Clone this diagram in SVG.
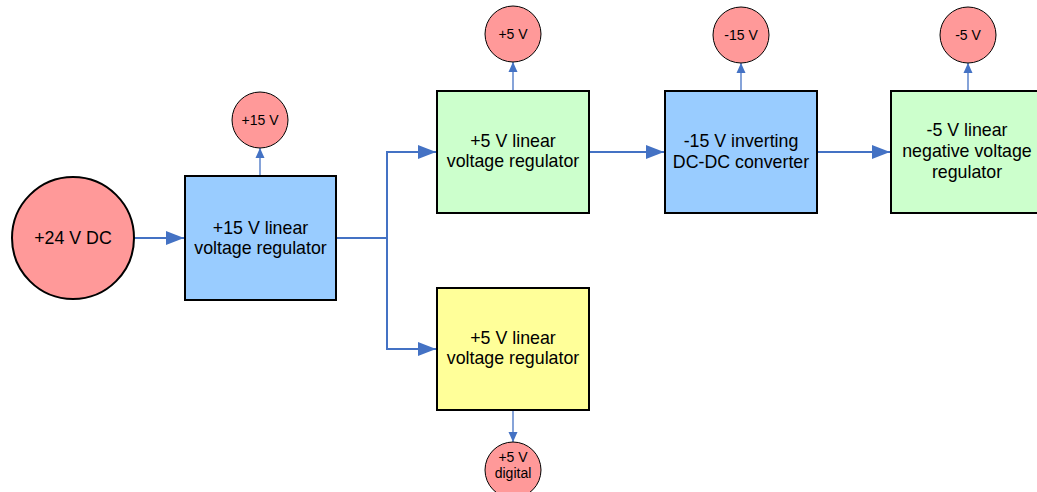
<svg xmlns="http://www.w3.org/2000/svg" width="1037" height="492" viewBox="0 0 1037 492">
<style>
.box{stroke:#000;stroke-width:2}
.blue{fill:#99CCFF}
.green{fill:#CCFFCC}
.yellow{fill:#FFFF99}
.circ{fill:#FF9999;stroke:#000;stroke-width:1}
.big{stroke-width:2}
.lbl{font-family:"Liberation Sans",Arial,sans-serif;font-size:17.8px;fill:#000;text-anchor:middle}
.sm{font-family:"Liberation Sans",Arial,sans-serif;font-size:14px;fill:#000;text-anchor:middle}
.wire{fill:none;stroke:#4472C4;stroke-width:2}
.thin{fill:none;stroke:#4472C4;stroke-width:1.3}
</style>
<defs>
<marker id="ah" markerUnits="userSpaceOnUse" markerWidth="18" markerHeight="14" refX="18" refY="7" orient="auto">
<path d="M0,0 L18,7 L0,14 Z" fill="#4472C4"/>
</marker>
<marker id="as" markerUnits="userSpaceOnUse" markerWidth="10" markerHeight="10" refX="10" refY="5" orient="auto">
<path d="M0,0.5 L10,5 L0,9.5 Z" fill="#4472C4"/>
</marker>
</defs>
<g id="connectors">
<line class="wire" x1="134" y1="238" x2="184" y2="238" marker-end="url(#ah)"/>
<polyline class="wire" points="336,238 387,238 387,152 436,152" marker-end="url(#ah)"/>
<polyline class="wire" points="387,238 387,349 436,349" marker-end="url(#ah)"/>
<line class="wire" x1="589" y1="152" x2="664" y2="152" marker-end="url(#ah)"/>
<line class="wire" x1="817" y1="152" x2="890" y2="152" marker-end="url(#ah)"/>
<line class="thin" x1="260" y1="176" x2="260" y2="148" marker-end="url(#as)"/>
<line class="thin" x1="513" y1="91" x2="513" y2="62" marker-end="url(#as)"/>
<line class="thin" x1="741" y1="91" x2="741" y2="63" marker-end="url(#as)"/>
<line class="thin" x1="968" y1="91" x2="968" y2="63" marker-end="url(#as)"/>
<line class="thin" x1="513" y1="411" x2="513" y2="442" marker-end="url(#as)"/>
</g>
<g id="src24">
<circle class="circ big" cx="73" cy="238" r="61"/>
<text class="lbl" x="73" y="244">+24 V DC</text>
</g>
<g id="reg15">
<rect class="box blue" x="185" y="176" width="151" height="124"/>
<text class="lbl" x="260.5" y="234">+15 V linear</text>
<text class="lbl" x="260.5" y="254">voltage regulator</text>
</g>
<g id="out15">
<circle class="circ" cx="260" cy="120" r="28"/>
<text class="sm" x="260" y="125">+15 V</text>
</g>
<g id="reg5a">
<rect class="box green" x="437" y="91" width="152" height="122"/>
<text class="lbl" x="513" y="147">+5 V linear</text>
<text class="lbl" x="513" y="167">voltage regulator</text>
</g>
<g id="out5a">
<circle class="circ" cx="513" cy="34" r="28"/>
<text class="sm" x="513" y="39">+5 V</text>
</g>
<g id="reg5d">
<rect class="box yellow" x="437" y="288" width="152" height="122"/>
<text class="lbl" x="513" y="344">+5 V linear</text>
<text class="lbl" x="513" y="364">voltage regulator</text>
</g>
<g id="out5d">
<circle class="circ" cx="513" cy="470" r="28"/>
<text class="sm" x="513" y="462">+5 V</text>
<text class="sm" x="513" y="478">digital</text>
</g>
<g id="inv15">
<rect class="box blue" x="665" y="91" width="152" height="122"/>
<text class="lbl" x="741" y="147">-15 V inverting</text>
<text class="lbl" x="741" y="168">DC-DC converter</text>
</g>
<g id="outm15">
<circle class="circ" cx="741" cy="35" r="28"/>
<text class="sm" x="741" y="40">-15 V</text>
</g>
<g id="reg5n">
<rect class="box green" x="891" y="91" width="152" height="122"/>
<text class="lbl" x="967" y="136">-5 V linear</text>
<text class="lbl" x="967" y="157">negative voltage</text>
<text class="lbl" x="967" y="178">regulator</text>
</g>
<g id="outm5">
<circle class="circ" cx="968" cy="35" r="28"/>
<text class="sm" x="968" y="40">-5 V</text>
</g>
</svg>
